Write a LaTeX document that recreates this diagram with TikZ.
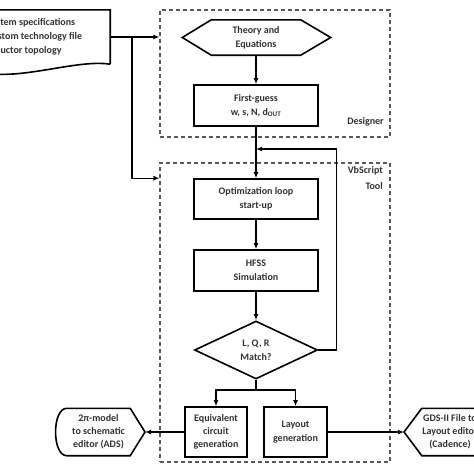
\documentclass[tikz,border=0pt]{standalone}
\usepackage{fontspec}
\setmainfont{Carlito}
\usetikzlibrary{shapes.geometric,arrows.meta,calc}
\begin{document}
\begin{tikzpicture}[x=1pt,y=-1pt,
  every node/.style={font=\bfseries\fontsize{10}{14}\selectfont, text=black!80},
  three/.style={font=\bfseries\fontsize{10}{13}\selectfont},
  box/.style={draw=black, line width=1.6pt, minimum width=124pt, minimum height=41pt, align=center, inner sep=0pt},
  grp/.style={draw=black!65, dash pattern=on 4pt off 3pt, line width=1.1pt, inner sep=0pt},
  arr/.style={line width=1.3pt, -{Latex[length=6pt,width=5pt]}},
  ln/.style={line width=1.3pt},
  shp/.style={line width=1.6pt, line join=miter}
]
\useasboundingbox (0,0) rectangle (474,474);
\fill[white] (0,0) rectangle (474,474);
\clip (0,0) rectangle (474,474);

% groups
\node[grp, minimum width=230pt, minimum height=127pt] (designer) at (275,73.5) {};
\node[grp, minimum width=230pt, minimum height=299pt] (vbs) at (275,312.5) {};
\node[anchor=east, inner sep=0pt] (deslbl) at (384,122) {Designer};
\node[anchor=north east, align=right, inner sep=0pt, font=\bfseries\fontsize{10}{16}\selectfont] (vbslbl) at (383,166) {VbScript\\Tool};

% document
\node[minimum width=150pt, minimum height=54pt, inner sep=0pt] (doc) at (35,37) {};
\draw[shp] (doc.south east) -- (doc.north east) -- (doc.north west) -- (doc.south west) .. controls (0,90) and (70,58) .. (doc.south east);
\node[anchor=west, align=left, inner sep=0pt] (doctxt) at (-13,37) {System specifications\\Custom technology file\\Inductor topology};

% theory
\node[minimum width=89pt, minimum height=35pt, inner sep=0pt, align=center] (theory) at (256,37.5) {Theory and\\Equations};
\draw[shp] (theory.north west) -- (theory.north east) -- ($(theory.east)+(30,0)$) -- (theory.south east) -- (theory.south west) -- ($(theory.west)+(-29,0)$) -- cycle;

% boxes
\node[box] (first) at (256,105.5) {First-guess\\w, s, N, d\textsubscript{OUT}};
\node[box, minimum height=40pt] (opt) at (256,199) {Optimization loop\\start-up};
\node[box] (hfss) at (256,270.5) {HFSS\\Simulation};
\node[draw=black, shp, diamond, minimum width=123pt, minimum height=58pt, inner sep=0pt, aspect=2.1, align=center] (dia) at (256,350) {L, Q, R\\Match?};
\node[box, three, minimum width=62pt, minimum height=50pt] (eq) at (216,432) {Equivalent\\circuit\\generation};
\node[box, minimum width=63pt, minimum height=50pt] (lay) at (295.5,432) {Layout\\generation};

% 2pi model display
\node[three, minimum width=63pt, minimum height=47pt, inner sep=0pt, align=center] (pi) at (98.5,432) {2π-model\\to schematic\\editor (ADS)};
\coordinate (pitip) at (145,432);
\draw[shp] (pi.north west) -- (pi.north east) -- (pitip) -- (pi.south east) -- (pi.south west) .. controls +(-15,0) and +(-15,0) .. (pi.north west);

% GDS display
\node[three, minimum width=56pt, minimum height=47pt, inner sep=0pt, align=center] (gds) at (450,432) {GDS-II File to\\Layout editor\\(Cadence)};
\coordinate (gdstip) at (404,432);
\draw[shp] (gds.north east) -- (gds.north west) -- (gdstip) -- (gds.south west) -- (gds.south east);

% connectors
\coordinate (j1) at (132,37);
\draw[arr] (doc.east) -- (doc.east -| designer.west);
\draw[arr] (j1) |- (vbs.west |- opt.north);
\draw[arr] (theory.south) -- (first.north);
\draw[arr] (first.south) -- (opt.north);
\draw[arr] (opt.south) -- (hfss.north);
\draw[arr] (hfss.south) -- (dia.north);
\coordinate (fbin) at (256,149);
\draw[arr] (dia.east) -- ++(18,0) |- (fbin);
\coordinate (split) at (256,390);
\draw[ln] (dia.south) -- (split);
\draw[arr] (split) -| (eq.north);
\draw[arr] (split) -| (lay.north);
\draw[arr] (eq.west) -- (pitip);
\draw[arr] (lay.east) -- (gdstip);
\end{tikzpicture}
\end{document}
